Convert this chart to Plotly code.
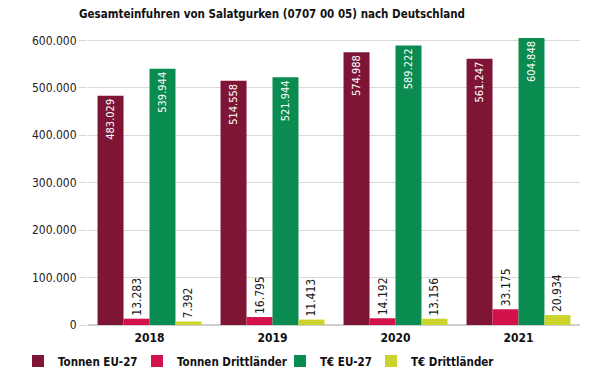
import plotly.graph_objects as go

years = ["2018", "2019", "2020", "2021"]
tonnen_eu = [483029, 514558, 574988, 561247]
tonnen_dritt = [13283, 16795, 14192, 33175]
teuro_eu = [539944, 521944, 589222, 604848]
teuro_dritt = [7392, 11413, 13156, 20934]
series_names = ["Tonnen EU-27", "Tonnen Drittländer", "T€ EU-27", "T€ Drittländer"]
colors = ["#7e1535", "#d3124b", "#0a8b4f", "#cbd42c"]
y_ticks = [0, 100000, 200000, 300000, 400000, 500000, 600000]

FONT = "DejaVu Sans Condensed, Liberation Sans Narrow, Roboto, sans-serif"

L, R, T, B = 88, 20, 37, 55
W, H = 600, 380
pw = W - L - R
ph = H - T - B

legend_text_px = [56, 175, 318, 409]
legend_keys = ["legend", "legend2", "legend3", "legend4"]
positions = ["inside", "outside", "inside", "outside"]

fig = go.Figure()
for i, (name, vals, col) in enumerate(zip(series_names, [tonnen_eu, tonnen_dritt, teuro_eu, teuro_dritt], colors)):
    fig.add_trace(go.Bar(
        x=years, y=vals, name=name, marker_color=col, marker_line_width=0,
        texttemplate="%{y:,}", textposition=positions[i], textangle=-90,
        insidetextanchor="end", constraintext="none",
        insidetextfont=dict(color="white", size=11, family=FONT),
        outsidetextfont=dict(color="#1a1a1a", size=12, family=FONT),
        cliponaxis=False, legend=legend_keys[i],
    ))

legends = {}
for key, px in zip(legend_keys, legend_text_px):
    legends[key] = dict(
        orientation="h", x=(px - 38 - L) / pw, xanchor="left",
        y=-(361 - (T + ph)) / ph, yanchor="middle",
        font=dict(size=11.5, color="#111", family=FONT, weight="bold"),
        itemwidth=30, bgcolor="rgba(0,0,0,0)",
    )

fig.update_layout(
    width=W, height=H,
    separators=",.",
    barmode="group", bargap=0.155, bargroupgap=0,
    paper_bgcolor="white", plot_bgcolor="white",
    margin=dict(l=L, r=R, t=T, b=B, autoexpand=False),
    font=dict(family=FONT, color="#222", size=12),
    title=dict(text="<b>Gesamteinfuhren von Salatgurken (0707 00 05) nach Deutschland</b>",
               x=272 / W, xanchor="center", y=1 - 14 / H, yanchor="middle",
               font=dict(size=11.5, color="#111", family=FONT)),
    showlegend=True,
    **legends,
)
fig.update_xaxes(tickfont=dict(size=12, color="#111", family=FONT), ticklabelstandoff=4,
                 showline=False, ticks="", tickprefix="<b>", ticksuffix="</b>")
fig.update_yaxes(range=[0, 607000], tickvals=y_ticks, tickformat=",d",
                 gridcolor="#d9d9d9", gridwidth=1, zeroline=True, zerolinecolor="#cfcfcf",
                 ticks="outside", ticklen=8, tickcolor="#d9d9d9",
                 tickfont=dict(size=12, color="#222", family=FONT), showline=False)

fig.write_html("out.html", config={"displayModeBar": False},
               post_script="document.body.style.margin='0px';")
